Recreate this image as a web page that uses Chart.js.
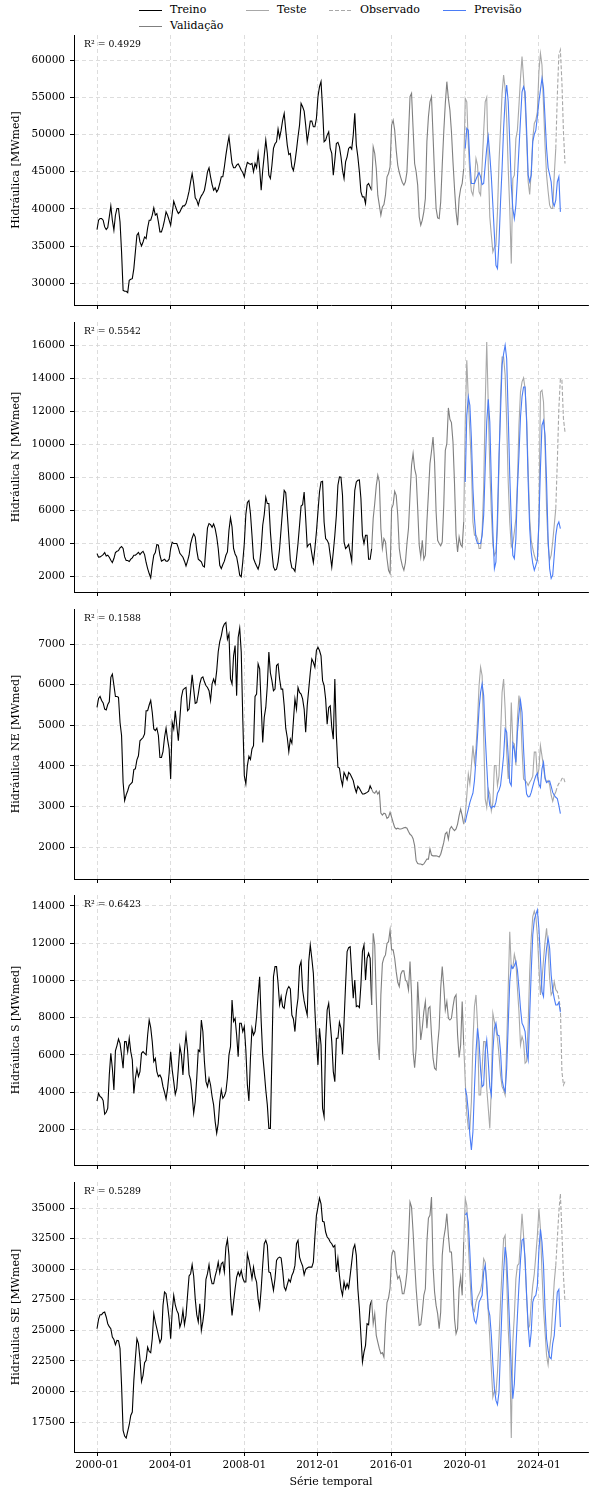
<!DOCTYPE html>
<html lang="pt-BR">
<head>
<meta charset="utf-8">
<title>Hidráulica - Treino / Validação / Teste / Previsão</title>
<script src="https://cdn.jsdelivr.net/npm/chart.js@4.4.1/dist/chart.umd.min.js"></script>
<style>
  html, body { margin: 0; padding: 0; background: #fff; }
  body { width: 600px; height: 1500px; position: relative; overflow: hidden; font-family: 'DejaVu Serif', serif; }
  canvas.panel { position: absolute; left: 0; }
  .legend { position: absolute; left: 0; top: 0; width: 600px; height: 34px; font-size: 11px; color: #000; }
  .legend .item { position: absolute; height: 14px; line-height: 14px; white-space: nowrap; }
  .legend .swatch { position: absolute; left: 0; top: 7px; width: 23px; height: 1px; }
  .legend .label { position: absolute; left: 31px; top: 0; }
</style>
</head>
<body>

<div class="legend">
  <div class="item" style="left:139px;top:3px"><span class="swatch" style="background:#000"></span><span class="label">Treino</span></div>
  <div class="item" style="left:139px;top:19px"><span class="swatch" style="background:#7f7f7f"></span><span class="label">Validação</span></div>
  <div class="item" style="left:246px;top:3px"><span class="swatch" style="background:#a8a8a8"></span><span class="label">Teste</span></div>
  <div class="item" style="left:329px;top:3px"><span class="swatch" style="background:repeating-linear-gradient(to right,#a8a8a8 0 4px,transparent 4px 6px)"></span><span class="label">Observado</span></div>
  <div class="item" style="left:443px;top:3px"><span class="swatch" style="background:#4a7cf6"></span><span class="label">Previsão</span></div>
</div>

<canvas class="panel" id="c0" width="600" height="294"></canvas>
<canvas class="panel" id="c1" width="600" height="294"></canvas>
<canvas class="panel" id="c2" width="600" height="294"></canvas>
<canvas class="panel" id="c3" width="600" height="294"></canvas>
<canvas class="panel" id="c4" width="600" height="328"></canvas>

<script>
// ═══════════════════════════════════════════════════════════
//  Data (monthly, month 0 = 2000-01)
// ═══════════════════════════════════════════════════════════

var TRAIN_START = 0;    // 2000-01
var VAL_START = 180;    // 2015-01
var TEST_START = 240;   // 2020-01
var OBS_START = 300;    // 2025-01
var PRED_START = 240;   // 2020-01

var tickMonths = [0, 48, 96, 144, 192, 240, 288];
var tickLabels = ['2000-01', '2004-01', '2008-01', '2012-01', '2016-01', '2020-01', '2024-01'];

// --- Hidráulica (total) ---
var hidTreino = [
    37220, 38480, 38700, 38700, 38480, 37580, 37220, 37490, 38930, 40400,
    38480, 37130, 39150, 40050, 40050, 38250, 34220, 29060, 28930, 28930,
    28750, 30400, 30540, 30630, 31980, 34220, 36460, 36770, 35560, 35020,
    35560, 36230, 36010, 37440, 38480, 38480, 39150, 40140, 39150, 39370,
    38250, 36910, 36910, 37580, 38480, 39600, 39150, 38480, 37800, 39370,
    41030, 40400, 39820, 39370, 39600, 40050, 40400, 40400, 40720, 41480,
    42380, 43640, 44760, 43410, 41480, 41170, 40500, 41300, 41750, 42060,
    42510, 43640, 44980, 45520, 44310, 43270, 42510, 42830, 42290, 42650,
    43410, 44310, 44310, 45650, 47220, 48570, 49690, 47890, 46100, 45520,
    45520, 45870, 46050, 45650, 45200, 44890, 44310, 45430, 46240, 46100,
    45970, 46100, 44980, 46100, 45520, 47450, 45430, 42510, 45200, 47220,
    49240, 47450, 44530, 44080, 45870, 48120, 48750, 49020, 50720, 49550,
    50580, 51930, 52830, 50580, 48570, 47310, 47450, 45650, 45160, 46320,
    47890, 49690, 51260, 54170, 53720, 53140, 51260, 49020, 50360, 51790,
    51790, 51030, 51030, 52150, 55070, 56410, 57090, 53500, 49020, 49240,
    49910, 50360, 48120, 47450, 44530, 46550, 48790, 48930, 48340, 47000,
    45200, 44080, 46320, 47000, 48120, 48340, 48030, 49910, 52830, 48570,
    47000, 44980, 42290, 41620, 41620, 40720, 43190, 43410, 42960, 42510
];
var hidValid = [
    48340, 47450, 45430, 41840, 40500, 39150, 40270, 40580, 41840, 44310,
    44760, 45650, 51260, 51930, 50580, 47890, 45880, 44890, 44170, 43540,
    43190, 43640, 44980, 49910, 55070, 55520, 50800, 46100, 44980, 43190,
    38930, 37800, 38480, 39600, 41390, 49020, 52380, 54390, 55070, 49910,
    44530, 40050, 38790, 38700, 40940, 45880, 50360, 54170, 57090, 54840,
    53270, 50360, 46320, 42740, 39600, 37800, 41390, 42740, 43410, 45430
];
var hidTeste = [
    54840, 54390, 48570, 44530, 42380, 41840, 43640, 46770, 45880, 42290,
    41840, 45880, 50360, 54390, 54980, 46100, 38930, 36460, 34220, 34890,
    35110, 39600, 46320, 50810, 55520, 57980, 56190, 52150, 45430, 40050,
    32650, 44080, 44530, 49460, 50580, 53950, 57530, 60450, 57530, 54390,
    49460, 43640, 41930, 44980, 49460, 51480, 51930, 53050, 58430, 60900,
    59330, 53950, 48570, 44530, 42380, 40500, 40050, 40050, 44530, 48120
];
var hidObs = [55200, 60700, 61350, 57000, 50360, 46100];
var hidPrev = [
    48120, 50810, 50580, 46320, 43410, 43410, 43410, 43990, 44440, 44890,
    44310, 43270, 43410, 45880, 48120, 49690, 47220, 44310, 40500, 36460,
    32420, 31980, 35560, 40940, 45430, 50810, 54620, 56640, 54390, 49020,
    43190, 40050, 38700, 40500, 44080, 48120, 51930, 55740, 56410, 55740,
    50580, 44530, 43640, 44530, 49020, 50000, 50580, 52380, 54390, 55970,
    57530, 56190, 52150, 48120, 45520, 44620, 43640, 40940, 40400, 41170,
    43640, 44310, 39600
];
var hidYTicks = [30000, 35000, 40000, 45000, 50000, 55000, 60000];

// --- Hidráulica N ---
var nTreino = [
    3360, 3140, 3160, 3220, 3300, 3420, 3220, 3260, 3140, 2960,
    2820, 3060, 3420, 3500, 3540, 3710, 3790, 3670, 3160, 2940,
    2940, 2880, 3020, 3100, 3260, 3260, 3340, 3440, 3300, 3420,
    3500, 3300, 2820, 2450, 2150, 1890, 2650, 3260, 3420, 3910,
    3870, 3260, 2900, 2960, 3020, 2900, 2900, 3020, 3670, 4050,
    3970, 3970, 3970, 3710, 3380, 3260, 3140, 2900, 2610, 2900,
    3260, 3950, 4310, 4560, 4380, 3560, 3020, 2940, 2860, 2610,
    2550, 3770, 4920, 5180, 5120, 4960, 5160, 4880, 4380, 3670,
    2650, 2450, 2700, 2900, 3260, 3460, 4780, 5530, 4980, 3670,
    3340, 3160, 2650, 2050, 1950, 2860, 3970, 5730, 6460, 6580,
    5790, 4470, 3060, 2820, 2610, 2410, 2760, 3670, 5080, 5730,
    6780, 6400, 6400, 4680, 3460, 2550, 2350, 2410, 2860, 3670,
    4880, 6090, 7200, 7060, 5790, 4380, 2960, 2490, 2450, 2290,
    3060, 3970, 5080, 6250, 6330, 7100, 5490, 3770, 3910, 3970,
    3360, 2820, 3670, 4680, 5890, 7100, 7710, 7750, 5280, 4270,
    4170, 3970, 3260, 2550, 3460, 4470, 5690, 7510, 8010, 7990,
    6900, 4070, 3670, 3770, 3910, 3420, 2900, 5280, 7200, 7710,
    7810, 7830, 6700, 4470, 3970, 4470, 4470, 3020, 3020, 3670
];
var nValid = [
    5490, 6400, 7470, 8110, 7710, 4880, 3670, 4270, 4070, 3060,
    2350, 2150, 6090, 6330, 7140, 6900, 5690, 3670, 3020, 2610,
    2350, 2820, 3970, 4880, 6900, 8720, 9430, 8520, 8110, 6090,
    3870, 3160, 4170, 3020, 3260, 5280, 7000, 8820, 9570, 10440,
    8920, 5890, 4170, 3970, 3830, 4070, 6300, 9630, 10040, 12200,
    11510, 11310, 10140, 7610, 4470, 3460, 4370, 3910, 3770, 5280
];
var nTeste = [
    11350, 15090, 12760, 10740, 8720, 5280, 4470, 4470, 4270, 3670,
    3670, 4680, 7310, 12360, 16200, 12360, 8520, 5890, 3870, 3260,
    3460, 4880, 8720, 12970, 15290, 15290, 14180, 11350, 7710, 5280,
    3770, 3970, 4680, 5490, 7710, 11150, 13170, 13780, 14020, 13370,
    11550, 8420, 5490, 4170, 3670, 3260, 2960, 2960, 5280, 13170,
    13270, 12560, 9930, 6090, 3870, 2960, 3260, 4070, 5080, 6090
];
var nObs = [8920, 12160, 13980, 13880, 11550, 10740];
var nPrev = [
    7710, 11750, 12870, 12360, 10340, 7310, 5490, 4270, 3970, 3970,
    3970, 4470, 5690, 8520, 11350, 12720, 11350, 7710, 4680, 2450,
    2860, 5690, 9330, 11960, 14790, 15490, 16000, 15190, 11750, 8110,
    5280, 3260, 3060, 4270, 7310, 9330, 11650, 12870, 13470, 13470,
    11350, 7710, 4880, 3460, 2760, 2350, 2650, 2960, 5280, 8520,
    11150, 11430, 10540, 7710, 4270, 2450, 1850, 2050, 3260, 4470,
    5080, 5280, 4880
];
var nYTicks = [2000, 4000, 6000, 8000, 10000, 12000, 14000, 16000];

// --- Hidráulica NE ---
var neTreino = [
    5440, 5660, 5710, 5610, 5550, 5400, 5380, 5510, 5580, 6180,
    6260, 5990, 5710, 5710, 5690, 5070, 4750, 3600, 3150, 3290,
    3390, 3520, 3560, 3600, 3910, 3930, 4150, 4250, 4620, 4660,
    4700, 4790, 5360, 5360, 5500, 5610, 5320, 4910, 4870, 4930,
    4750, 4210, 4210, 4350, 4700, 4930, 4650, 4420, 3680, 5070,
    4910, 5360, 4990, 4620, 5160, 5690, 5870, 5910, 5930, 5360,
    5400, 5830, 6240, 5890, 5540, 5560, 5770, 6020, 6160, 6190,
    6070, 5980, 5930, 5850, 5610, 6020, 6140, 6020, 6340, 6810,
    7060, 7200, 7400, 7490, 7530, 7120, 7250, 6140, 6020, 6710,
    6960, 5730, 7160, 7390, 6800, 5160, 3760, 3560, 4010, 4240,
    4160, 4420, 4500, 5710, 5770, 6510, 6390, 5480, 4580, 5200,
    5440, 5980, 6800, 6290, 6100, 5850, 5890, 6470, 6510, 6140,
    5890, 5890, 5480, 4930, 4700, 4350, 4660, 4560, 5110, 5650,
    5400, 5930, 5810, 5770, 5650, 5400, 4830, 5480, 5890, 6300,
    6630, 6550, 6430, 6840, 6920, 6840, 6710, 6100, 5980, 5650,
    5030, 5440, 5480, 4950, 4660, 6140, 4750, 3970, 3950, 3680,
    3520, 3840, 3760, 3660, 3840, 3800, 3720, 3640, 3470, 3350,
    3500, 3450, 3380, 3310, 3310, 3330, 3350, 3380, 3510, 3430
];
var neValid = [
    3350, 3330, 3390, 3310, 3370, 2840, 2790, 2840, 2820, 2710,
    2740, 2860, 2740, 2610, 2490, 2450, 2470, 2450, 2450, 2460,
    2480, 2490, 2470, 2390, 2320, 2290, 2210, 2040, 1670, 1600,
    1590, 1590, 1570, 1590, 1650, 1710, 1710, 1960, 1810, 1790,
    1790, 1790, 1780, 1760, 1830, 1970, 2120, 2330, 2370, 2200,
    2450, 2510, 2450, 2410, 2450, 2570, 2780, 2940, 2780, 2570
];
var neTeste = [
    2780, 3270, 3800, 3560, 4010, 4500, 4090, 4420, 5120, 5980,
    6430, 6220, 4750, 3190, 2980, 3430, 3310, 2900, 3100, 4010,
    4010, 3520, 3760, 4750, 5810, 6140, 5400, 4340, 3680, 4090,
    5560, 4580, 4540, 4010, 5160, 5730, 5400, 4420, 3680, 3640,
    3600, 3520, 3600, 3660, 3750, 4340, 4340, 3720, 3930, 4500,
    4250, 3970, 3680, 3600, 3640, 3540, 3280, 3130, 3280, 3360
];
var neObs = [3490, 3570, 3600, 3690, 3720, 3600];
var nePrev = [
    2610, 2790, 2940, 3100, 3220, 3330, 3640, 4170, 4750, 5400,
    5810, 6020, 5730, 4750, 4010, 3310, 3030, 2960, 3010, 2990,
    3110, 3330, 3400, 3520, 3870, 4250, 4910, 4830, 4250, 3600,
    3520, 4540, 4400, 4090, 4830, 5280, 5610, 5320, 4420, 3680,
    3310, 3240, 3250, 3350, 3500, 3640, 3760, 3820, 3550, 3470,
    3930, 4090, 3720, 3590, 3620, 3630, 3500, 3350, 3280, 3230,
    3200, 3030, 2830
];
var neYTicks = [2000, 3000, 4000, 5000, 6000, 7000];

// --- Hidráulica S ---
var sTreino = [
    3520, 3930, 3760, 3700, 3540, 2810, 2910, 3130, 4920, 6080,
    5280, 4110, 6210, 6500, 6850, 6620, 6000, 5280, 6710, 6710,
    6170, 6890, 6170, 5730, 3930, 4740, 5240, 4830, 5100, 6080,
    6170, 6080, 6000, 7070, 7870, 7460, 6710, 5640, 5810, 5100,
    4830, 4920, 4740, 4290, 3990, 3630, 4200, 5010, 6170, 5190,
    4560, 3880, 4200, 5280, 6440, 6000, 4920, 6260, 7070, 6260,
    4950, 4650, 3840, 2860, 3480, 4740, 6260, 6170, 7870, 7240,
    5640, 4560, 4290, 4740, 4380, 3760, 3310, 2410, 1790, 2320,
    3480, 4110, 3660, 3790, 4020, 4780, 6000, 6440, 8950, 7790,
    7960, 7070, 5900, 7700, 7700, 7250, 7520, 6260, 4380, 3520,
    5820, 7430, 7070, 7250, 8050, 9220, 10200, 7790, 6000, 5100,
    4110, 3310, 2050, 2050, 6000, 10200, 10740, 10740, 9850, 8690,
    9130, 8590, 8500, 9130, 9520, 9670, 9540, 8140, 7930, 7250,
    8410, 9040, 10740, 11010, 9490, 8900, 8500, 8140, 11010, 11900,
    11180, 10380, 8410, 6710, 5460, 7430, 6530, 3130, 2680, 6710,
    8410, 8770, 7700, 6710, 5100, 4560, 6890, 6890, 7750, 7430,
    6030, 7790, 9760, 11550, 11760, 11810, 10380, 9040, 10020, 8590,
    8640, 8540, 9760, 11580, 11900, 10020, 11190, 11460, 11190, 8680
];
var sValid = [
    12530, 11900, 9040, 6710, 5730, 9220, 10920, 11220, 11370, 11990,
    12080, 12710, 11640, 11640, 11190, 10470, 9900, 9670, 10330, 10510,
    10510, 10020, 9930, 9490, 11010, 9220, 6170, 5310, 6350, 9930,
    8320, 6800, 7430, 8320, 8860, 7430, 8500, 8590, 7070, 5820,
    5280, 5190, 6530, 7430, 9580, 10740, 9670, 8410, 8860, 7960,
    7870, 7960, 8590, 9080, 9220, 7070, 5860, 6530, 8860, 6530
];
var sTeste = [
    4560, 2860, 2050, 2050, 3490, 6710, 8590, 9220, 7610, 3840,
    3840, 5280, 6710, 6710, 4200, 3130, 2050, 4200, 8230, 7790,
    7340, 6890, 6000, 4920, 4290, 4110, 3840, 6530, 9580, 12620,
    10650, 10650, 11400, 11010, 9580, 8320, 6530, 6980, 6710, 5550,
    5640, 7610, 10470, 12260, 13430, 13730, 13430, 12440, 10740, 9220,
    10020, 11100, 12080, 12800, 11730, 10110, 9220, 9400, 9930, 9490
];
var sObs = [9400, 9040, 8500, 5100, 4380, 4560];
var sPrev = [
    4200, 3810, 2950, 1700, 890, 1870, 4200, 6170, 7430, 6710,
    5190, 4290, 4380, 6170, 6800, 5640, 4290, 3840, 6170, 7430,
    7700, 7070, 7030, 6170, 4650, 4240, 4020, 5280, 7610, 9930,
    10790, 10650, 10790, 11010, 10560, 9580, 8500, 7700, 7520, 7250,
    6170, 5730, 8140, 10470, 12440, 13250, 13550, 13790, 12800, 11190,
    9400, 9130, 10830, 11730, 12260, 11730, 10290, 9490, 9040, 8680,
    8680, 8820, 8290
];
var sYTicks = [2000, 4000, 6000, 8000, 10000, 12000, 14000];

// --- Hidráulica SE ---
var seTreino = [
    25130, 25900, 26280, 26280, 26440, 26500, 26090, 25540, 25300, 25130,
    24450, 24260, 23820, 24180, 24150, 23500, 20500, 16820, 16350, 16190,
    16740, 17280, 18040, 18320, 20910, 22680, 24310, 23910, 22680, 20820,
    21320, 22350, 22540, 23630, 23280, 23170, 24310, 26360, 25680, 25130,
    24590, 23990, 24310, 27040, 28130, 28000, 27040, 25950, 24310, 26500,
    27860, 27090, 26630, 26360, 25270, 25680, 26630, 25460, 26220, 27860,
    29440, 29630, 30370, 29440, 27590, 26280, 25680, 27180, 25000, 25730,
    26770, 29170, 29630, 30370, 29360, 28810, 28810, 29440, 29900, 30580,
    29710, 30450, 30580, 29770, 31810, 32440, 31130, 27860, 26220, 27310,
    28400, 29360, 29770, 29440, 29900, 29280, 28950, 28950, 31260, 30720,
    30040, 29220, 30170, 29360, 28950, 27590, 26820, 28400, 30370, 32080,
    32360, 31950, 29770, 29710, 29010, 28270, 29220, 30720, 30910, 30990,
    30910, 29900, 28540, 28270, 28730, 29170, 28950, 29490, 29770, 30310,
    32080, 32360, 30990, 30580, 30260, 29550, 29990, 30100, 30170, 30170,
    30170, 30580, 32630, 34400, 35080, 35820, 35350, 33910, 33860, 33040,
    32630, 32490, 32220, 32080, 31810, 31950, 29770, 30860, 29490, 28400,
    27860, 28950, 28400, 28810, 28460, 29490, 30580, 31670, 32000, 31130,
    28400, 26770, 24590, 22410, 23220, 23770, 25540, 25460, 27040, 27450
];
var seValid = [
    25540, 26360, 24590, 24040, 23500, 23090, 23170, 22810, 25540, 27260,
    27640, 28460, 31070, 31540, 31400, 29900, 29220, 29440, 28950, 27990,
    27990, 28680, 29770, 32220, 35490, 35080, 33040, 30580, 28400, 26770,
    25400, 25460, 26500, 27860, 28400, 32220, 34180, 34400, 35900, 30310,
    28130, 27040, 26360, 25130, 26500, 31130, 32550, 33310, 34540, 32760,
    31400, 31400, 29360, 25950, 24720, 25130, 28400, 29360, 27860, 32220
];
var seTeste = [
    35760, 35220, 32080, 29490, 27180, 26770, 26550, 27310, 27720, 27990,
    28270, 28950, 30860, 30580, 28400, 26500, 24310, 21860, 19540, 20090,
    19820, 21590, 24310, 27310, 30040, 32490, 32760, 29220, 25130, 22680,
    16200, 24040, 26220, 29220, 30310, 30450, 32360, 34540, 32760, 30450,
    27720, 25130, 25400, 27310, 28680, 29630, 31130, 32760, 34950, 33310,
    29770, 26770, 24860, 22950, 22190, 23500, 24590, 26770, 28950, 30310
];
var seObs = [32490, 34670, 36170, 33040, 29490, 27310];
var sePrev = [
    34450, 34590, 33860, 31400, 28680, 26630, 25810, 25570, 26220, 27310,
    27590, 27860, 29770, 30310, 28950, 26770, 26220, 24590, 22270, 20230,
    19270, 18920, 19950, 23500, 27040, 29770, 31810, 30860, 28130, 25130,
    21860, 19410, 20630, 23500, 26220, 28680, 30720, 32360, 32490, 30860,
    27860, 25400, 23630, 24860, 27310, 27720, 27860, 28680, 31540, 33260,
    32220, 30310, 26770, 24310, 23360, 22810, 22680, 23910, 24590, 26360,
    28130, 28350, 25270
];
var seYTicks = [17500, 20000, 22500, 25000, 27500, 30000, 32500, 35000];

// ═══════════════════════════════════════════════════════════
//  Panel definitions
// ═══════════════════════════════════════════════════════════

var panels = [
    { id: 'c0', top: 35,   title: 'Hidráulica [MWmed]',    r2: 'R² = 0.4929', yMin: 27090, yMax: 63360, yTicks: hidYTicks,
      treino: hidTreino, valid: hidValid, teste: hidTeste, obs: hidObs, prev: hidPrev },
    { id: 'c1', top: 322,  title: 'Hidráulica N [MWmed]',  r2: 'R² = 0.5542', yMin: 1030,  yMax: 17415, yTicks: nYTicks,
      treino: nTreino, valid: nValid, teste: nTeste, obs: nObs, prev: nPrev },
    { id: 'c2', top: 609,  title: 'Hidráulica NE [MWmed]', r2: 'R² = 0.1588', yMin: 1220,  yMax: 7861,  yTicks: neYTicks,
      treino: neTreino, valid: neValid, teste: neTeste, obs: neObs, prev: nePrev },
    { id: 'c3', top: 895,  title: 'Hidráulica S [MWmed]',  r2: 'R² = 0.6423', yMin: 80,    yMax: 14590, yTicks: sYTicks,
      treino: sTreino, valid: sValid, teste: sTeste, obs: sObs, prev: sPrev },
    { id: 'c4', top: 1182, title: 'Hidráulica SE [MWmed]', r2: 'R² = 0.5289', yMin: 15050, yMax: 37130, yTicks: seYTicks,
      treino: seTreino, valid: seValid, teste: seTeste, obs: seObs, prev: sePrev }
];

var PLOT_LEFT = 74;
var PLOT_RIGHT_PAD = 12;
var PAD_TOP = 12;
var PLOT_H = 270;
// must stay >= half a y tick label + its padding, or Chart.js shrinks the plot
var BOTTOM_H = 12;
var BOTTOM_H_LAST = 46;

var COLORS = {
    treino: '#000000',
    valid: '#7f7f7f',
    teste: '#a8a8a8',
    obs: '#a8a8a8',
    prev: '#4a7cf6',
    grid: '#d4d4d4'
};

Chart.defaults.font.family = "'DejaVu Serif', serif";
Chart.defaults.color = '#000';

// ═══════════════════════════════════════════════════════════
//  Helpers
// ═══════════════════════════════════════════════════════════

function pts(start, values) {
    return values.map(function (v, i) { return { x: start + i, y: v }; });
}

function lastOf(arr) { return arr[arr.length - 1]; }

var r2Label = {
    id: 'r2Label',
    afterDatasetsDraw: function (chart, args, opts) {
        var ctx = chart.ctx, area = chart.chartArea;
        ctx.save();
        ctx.font = "9.3px 'DejaVu Serif', serif";
        ctx.fillStyle = '#000';
        ctx.textBaseline = 'middle';
        ctx.textAlign = 'left';
        ctx.fillText(opts.text, area.left + 10, area.top + 10);
        ctx.restore();
    }
};

function gridOpts() {
    return {
        color: COLORS.grid,
        lineWidth: 0.8,
        tickColor: '#000',
        tickLength: 4,
        tickWidth: 1,
        tickBorderDash: []
    };
}

function borderOpts() {
    return { display: true, color: '#000', width: 1, dash: [4, 3] };
}

// ═══════════════════════════════════════════════════════════
//  Build charts
// ═══════════════════════════════════════════════════════════

panels.forEach(function (p, idx) {
    var isLast = idx === panels.length - 1;
    var bottomH = isLast ? BOTTOM_H_LAST : BOTTOM_H;
    var canvas = document.getElementById(p.id);
    canvas.style.top = (p.top - PAD_TOP) + 'px';
    canvas.width = 600;
    canvas.height = PAD_TOP + PLOT_H + bottomH;

    var datasets = [
        { label: 'Previsão', data: pts(PRED_START, p.prev), borderColor: COLORS.prev, order: 0 },
        { label: 'Observado', data: pts(OBS_START - 1, [lastOf(p.teste)].concat(p.obs)),
          borderColor: COLORS.obs, borderDash: [4, 2], order: 1 },
        { label: 'Teste', data: pts(TEST_START - 1, [lastOf(p.valid)].concat(p.teste)), borderColor: COLORS.teste, order: 2 },
        { label: 'Validação', data: pts(VAL_START - 1, [lastOf(p.treino)].concat(p.valid)), borderColor: COLORS.valid, order: 3 },
        { label: 'Treino', data: pts(TRAIN_START, p.treino), borderColor: COLORS.treino, order: 4 }
    ];
    datasets.forEach(function (d) {
        d.borderWidth = 1.1;
        d.pointRadius = 0;
        d.fill = false;
        d.tension = 0;
    });

    new Chart(canvas.getContext('2d'), {
        type: 'line',
        data: { datasets: datasets },
        plugins: [r2Label],
        options: {
            responsive: false,
            animation: false,
            devicePixelRatio: 1,
            layout: { padding: { top: PAD_TOP, right: PLOT_RIGHT_PAD, bottom: 0, left: 0 } },
            plugins: {
                legend: { display: false },
                tooltip: { enabled: false },
                r2Label: { text: p.r2 }
            },
            scales: {
                x: {
                    type: 'linear',
                    min: -15,
                    max: 320,
                    afterBuildTicks: function (s) { s.ticks = tickMonths.map(function (v) { return { value: v }; }); },
                    afterFit: function (s) { s.height = bottomH; },
                    ticks: {
                        display: isLast,
                        autoSkip: false,
                        maxRotation: 0,
                        padding: 3,
                        font: { size: 10.5 },
                        callback: function (v) { var i = tickMonths.indexOf(v); return i >= 0 ? tickLabels[i] : ''; }
                    },
                    grid: gridOpts(),
                    border: borderOpts(),
                    title: {
                        display: isLast,
                        text: 'Série temporal',
                        font: { size: 11 },
                        padding: { top: 0, bottom: 9 }
                    }
                },
                y: {
                    type: 'linear',
                    min: p.yMin,
                    max: p.yMax,
                    afterBuildTicks: function (s) { s.ticks = p.yTicks.map(function (v) { return { value: v }; }); },
                    afterFit: function (s) { s.width = PLOT_LEFT; },
                    ticks: {
                        padding: 5,
                        font: { size: 10.5 },
                        callback: function (v) { return String(v); }
                    },
                    grid: gridOpts(),
                    border: borderOpts(),
                    title: {
                        display: true,
                        text: p.title,
                        font: { size: 11 },
                        padding: { top: 10, bottom: 0 }
                    }
                }
            }
        }
    });
});
</script>
</body>
</html>
